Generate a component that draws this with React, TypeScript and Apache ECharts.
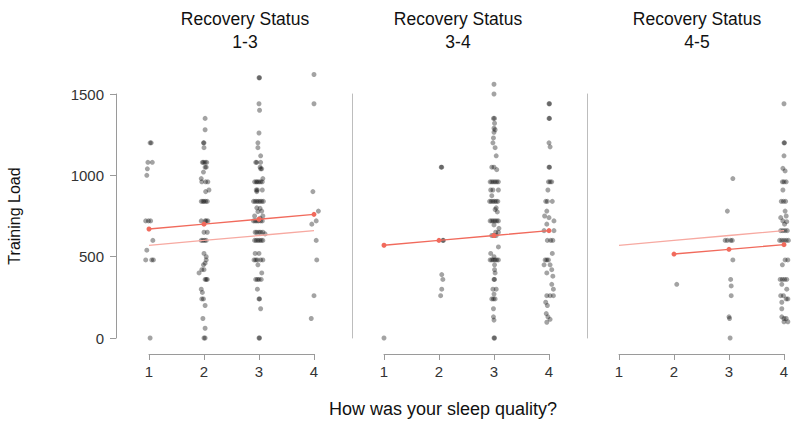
import React, { useEffect, useRef } from "react";
import * as echarts from "echarts";

// ---- data ----
const sleepLevels = [1, 2, 3, 4];
const panelTitles = ["Recovery Status\n1-3", "Recovery Status\n3-4", "Recovery Status\n4-5"];
const yTicks = [0, 500, 1000, 1500];

// jittered sleep quality (x) and training load (y)
const status13Points: number[][] = [
  [1.02, 1200], [1.04, 1200], [0.98, 1080], [1.06, 1080], [0.97, 1040], [0.96, 1000], [0.94, 720], [0.99, 720],
  [1.03, 720], [1.07, 600], [0.96, 540], [0.94, 480], [1.05, 480], [1.08, 480], [1.02, 0],
  [2.02, 1350], [2.02, 1280], [1.99, 1200], [2.0, 1200], [2.0, 1170], [1.97, 1080], [1.99, 1080], [2.02, 1080],
  [2.05, 1080], [2.02, 1050], [2.04, 1050], [1.99, 1020], [1.95, 980], [1.96, 960], [2.03, 960], [2.07, 960],
  [2.09, 910], [2.03, 900], [1.95, 840], [1.98, 840], [2.0, 840], [2.03, 840], [2.06, 840], [1.95, 720],
  [2.02, 720], [2.04, 720], [2.07, 720], [2.0, 650], [2.06, 650], [1.95, 600], [1.98, 600], [2.01, 600],
  [2.04, 600], [2.0, 520], [2.04, 500], [2.04, 480], [2.02, 460], [1.99, 450], [1.96, 420], [2.0, 420],
  [1.91, 400], [2.02, 360], [2.04, 360], [2.06, 360], [1.95, 300], [1.97, 280], [1.96, 240], [1.99, 240],
  [2.02, 200], [1.98, 120], [2.02, 60], [2.0, 0], [2.02, 0],
  [3.0, 1600], [3.01, 1600], [3.0, 1440], [3.01, 1400], [3.0, 1260], [2.98, 1200], [2.98, 1170], [3.03, 1120],
  [2.94, 1080], [2.96, 1080], [3.03, 1080], [3.02, 1050], [3.03, 1040], [3.05, 1040], [3.07, 980], [2.92, 960],
  [2.95, 960], [2.97, 960], [3.0, 960], [3.03, 960], [3.06, 960], [2.95, 910], [2.97, 910], [3.06, 910],
  [2.96, 900], [2.9, 840], [2.93, 840], [2.96, 840], [2.99, 840], [3.02, 840], [3.05, 840], [3.08, 840],
  [2.96, 800], [3.02, 797], [3.05, 780], [2.98, 777], [2.92, 750], [3.07, 750], [3.02, 736], [2.9, 720],
  [2.93, 720], [2.96, 720], [2.99, 720], [3.03, 720], [3.06, 720], [2.93, 650], [2.96, 650], [3.0, 650],
  [3.03, 650], [3.07, 650], [3.11, 640], [2.92, 600], [2.95, 600], [2.98, 600], [3.01, 600], [3.04, 600],
  [3.07, 600], [2.93, 520], [3.0, 520], [2.91, 480], [2.94, 480], [2.97, 480], [3.03, 480], [3.07, 480],
  [2.98, 450], [3.05, 400], [2.94, 360], [2.97, 360], [3.0, 360], [3.04, 360], [2.97, 300], [3.0, 240],
  [3.01, 240], [3.03, 180], [3.0, 0], [3.01, 0],
  [4.0, 1620], [4.0, 1440], [3.98, 900], [4.08, 780], [4.04, 720], [3.96, 700], [4.04, 600], [4.05, 480],
  [4.0, 260], [3.95, 120],
];

const status34Points: number[][] = [
  [1.0, 0],
  [2.04, 1050], [2.05, 1050], [2.07, 600], [2.08, 600], [2.05, 390], [2.07, 360], [2.05, 300], [2.03, 260],
  [3.0, 1560], [3.0, 1500], [2.99, 1350], [3.01, 1350], [3.01, 1320], [3.0, 1290], [3.02, 1280], [3.0, 1265],
  [2.99, 1230], [2.98, 1200], [3.02, 1170], [3.04, 1120], [2.96, 1050], [3.0, 1050], [3.05, 1035], [2.93, 960],
  [2.96, 960], [2.99, 960], [3.02, 960], [3.05, 960], [3.08, 960], [2.94, 910], [2.98, 910], [3.08, 910],
  [2.96, 875], [2.92, 840], [2.95, 840], [2.98, 840], [3.01, 840], [3.04, 840], [3.07, 840], [3.04, 800],
  [3.02, 790], [3.06, 775], [2.93, 720], [2.96, 720], [2.99, 720], [3.02, 720], [3.05, 720], [3.08, 720],
  [3.0, 695], [3.09, 674], [3.03, 650], [3.08, 650], [2.96, 630], [3.0, 630], [3.04, 630], [3.08, 560],
  [2.94, 520], [3.0, 500], [2.93, 480], [2.96, 480], [2.99, 480], [3.02, 480], [3.05, 480], [3.08, 480],
  [3.01, 450], [3.01, 420], [3.02, 400], [3.0, 360], [3.01, 360], [2.98, 300], [3.04, 300], [3.0, 270],
  [2.96, 240], [2.99, 240], [3.02, 240], [2.99, 180], [2.99, 130], [3.0, 110], [3.0, 0], [3.01, 0],
  [4.0, 1440], [4.01, 1440], [4.0, 1350], [4.01, 1350], [4.0, 1200], [4.02, 1175], [4.0, 1050], [4.01, 1050],
  [3.99, 960], [4.02, 960], [4.05, 960], [3.98, 910], [3.94, 840], [3.97, 840], [4.06, 840], [3.96, 780],
  [3.92, 750], [4.0, 740], [4.09, 720], [3.96, 700], [3.91, 660], [4.09, 660], [3.97, 600], [4.03, 600],
  [4.07, 600], [4.06, 520], [3.93, 480], [3.96, 480], [3.99, 480], [3.91, 450], [4.02, 450], [4.05, 420],
  [3.96, 400], [4.07, 380], [4.05, 330], [4.08, 300], [3.96, 260], [4.02, 260], [4.08, 260], [3.94, 220],
  [3.97, 200], [3.95, 150], [3.98, 130], [4.02, 115], [3.96, 97],
];

const status45Points: number[][] = [
  [2.05, 330],
  [3.07, 980], [2.97, 780], [2.93, 600], [2.97, 600], [3.03, 600], [3.06, 600], [3.07, 480], [3.03, 360],
  [3.04, 320], [3.04, 260], [3.0, 130], [3.01, 120], [3.02, 0],
  [4.0, 1440], [4.0, 1200], [4.01, 1200], [4.0, 1120], [3.98, 1043], [4.02, 1027], [3.97, 960], [4.0, 960],
  [4.04, 960], [3.98, 910], [3.95, 840], [3.99, 840], [4.03, 840], [4.02, 780], [4.04, 750], [3.94, 740],
  [3.98, 720], [4.05, 715], [4.01, 700], [3.94, 660], [3.98, 660], [4.02, 660], [4.06, 660], [3.92, 600],
  [3.96, 600], [4.0, 600], [4.04, 600], [4.08, 600], [4.02, 480], [4.07, 480], [3.97, 450], [3.93, 360],
  [3.97, 360], [4.01, 360], [4.05, 360], [3.96, 330], [4.05, 300], [3.94, 260], [3.99, 260], [4.04, 240],
  [4.07, 240], [3.96, 220], [3.96, 180], [3.96, 130], [4.0, 120], [4.04, 120], [4.07, 100], [4.0, 100],
];

// fitted training load per sleep level
const overallFit = [570, 600, 630, 660];
const fit13 = [670, 700, 730, 760];
const fit34 = [570, 600, 630, 660];
const fit45 = [null, 516, 545, 574];

const FONT = "'Liberation Sans', Arial, sans-serif";

export default function App() {
  const ref = useRef<HTMLDivElement>(null);
  useEffect(() => {
    document.body.style.margin = "0";
    const chart = echarts.init(ref.current!, null, { renderer: "svg" });
    const panelLefts = [149, 384, 619];
    const yOffsets = [33, 32, 32];
    const titleCenters = [245, 458, 697];
    const pointsByPanel = [status13Points, status34Points, status45Points];
    const fits = [fit13, fit34, fit45];
    const red = "#F16A5C";
    const lightRed = "#F7A9A1";

    const toPairs = (vals: (number | null)[]) =>
      sleepLevels.map((x, i) => (vals[i] == null ? null : [x, vals[i]])).filter(Boolean) as number[][];

    const series: any[] = [];
    pointsByPanel.forEach((pts, i) => {
      series.push({
        type: "scatter",
        xAxisIndex: i,
        yAxisIndex: i,
        data: pts,
        symbolSize: 5,
        clip: false,
        itemStyle: { color: "rgba(0,0,0,0.45)" },
        z: 2,
      });
    });
    [0, 2].forEach((i) => {
      series.push({
        type: "line",
        xAxisIndex: i,
        yAxisIndex: i,
        data: toPairs(overallFit),
        showSymbol: false,
        symbol: "none",
        clip: false,
        lineStyle: { color: lightRed, width: 1.3 },
        z: 3,
      });
    });
    fits.forEach((f, i) => {
      series.push({
        type: "line",
        xAxisIndex: i,
        yAxisIndex: i,
        data: toPairs(f),
        symbol: "circle",
        symbolSize: 5,
        clip: false,
        lineStyle: { color: red, width: 1.4 },
        itemStyle: { color: red },
        z: 4,
      });
    });

    chart.setOption({
      animation: false,
      grid: panelLefts.map((l) => ({ left: l, top: 94, width: 165, height: 244 })),
      xAxis: panelLefts.map((_, i) => ({
        type: "value",
        gridIndex: i,
        min: 1,
        max: 4,
        interval: 1,
        offset: 16,
        axisLine: { show: true, onZero: false, lineStyle: { color: "#9a9a9a", width: 1 } },
        axisTick: { show: true, inside: false, length: 6, lineStyle: { color: "#9a9a9a" } },
        axisLabel: { fontSize: 15, color: "#333", margin: 10, fontFamily: FONT },
        splitLine: { show: false },
      })),
      yAxis: panelLefts.map((_, i) => ({
        type: "value",
        gridIndex: i,
        min: 0,
        max: 1500,
        interval: 500,
        offset: yOffsets[i],
        axisLine: { show: true, onZero: false, lineStyle: { color: i === 0 ? "#9a9a9a" : "#bdbdbd", width: 1 } },
        axisTick: { show: i === 0, length: 6, lineStyle: { color: "#9a9a9a" } },
        axisLabel: {
          show: i === 0,
          fontSize: 15,
          color: "#333",
          margin: 12,
          fontFamily: FONT,
          formatter: (v: number) => (yTicks.includes(v) ? String(v) : ""),
        },
        splitLine: { show: false },
      })),
      series,
      graphic: [
        ...panelTitles.map((t, i) => ({
          type: "text",
          x: titleCenters[i],
          y: 7,
          style: {
            text: t,
            align: "center",
            verticalAlign: "top",
            fontSize: 17.5,
            lineHeight: 23,
            fill: "#111",
            fontFamily: FONT,
          },
        })),
        {
          type: "text",
          x: 443,
          y: 409,
          style: {
            text: "How was your sleep quality?",
            align: "center",
            verticalAlign: "middle",
            fontSize: 18,
            fill: "#111",
            fontFamily: FONT,
          },
        },
        {
          type: "text",
          x: 14,
          y: 216,
          rotation: Math.PI / 2,
          style: {
            text: "Training Load",
            align: "center",
            verticalAlign: "middle",
            fontSize: 16,
            fill: "#111",
            fontFamily: FONT,
          },
        },
      ],
    });
    return () => chart.dispose();
  }, []);
  return <div ref={ref} style={{ width: 794, height: 446 }} />;
}
